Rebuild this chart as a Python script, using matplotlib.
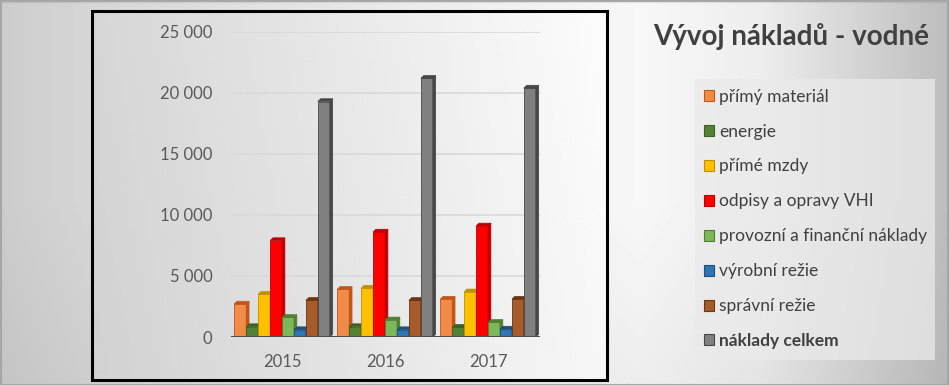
import matplotlib
matplotlib.use("Agg")
import matplotlib.pyplot as plt
import numpy as np
from matplotlib.patches import Patch, Polygon, Rectangle

plt.rcParams["font.family"] = ["Lato", "DejaVu Sans"]

years = ["2015", "2016", "2017"]
series = [
    "přímý materiál",
    "energie",
    "přímé mzdy",
    "odpisy a opravy VHI",
    "provozní a finanční náklady",
    "výrobní režie",
    "správní režie",
    "náklady celkem",
]
primy_material = [2700, 3900, 3100]
energie = [850, 850, 800]
prime_mzdy = [3500, 4000, 3700]
odpisy = [7900, 8600, 9100]
provozni = [1600, 1400, 1200]
vyrobni_rezie = [600, 600, 650]
spravni_rezie = [3000, 3000, 3100]
celkem = [19300, 21200, 20400]
values = [primy_material, energie, prime_mzdy, odpisy, provozni,
          vyrobni_rezie, spravni_rezie, celkem]

# front face, top/side face
colors = [
    ("#F28A48", "#C0561A"),
    ("#548235", "#3B6124"),
    ("#FFC000", "#BF9000"),
    ("#FF0000", "#C00000"),
    ("#7CB85A", "#507E32"),
    ("#2E75B6", "#1F4E79"),
    ("#A65B2B", "#6B3412"),
    ("#808080", "#474747"),
]

W, H = 949, 385
fig = plt.figure(figsize=(W / 100, H / 100), dpi=100)

# outer background: horizontal gray gradient, light near the title
bg = fig.add_axes([0, 0, 1, 1])
xs_px = np.arange(W)
prof = np.interp(xs_px, [0, 90, 400, 640, 760, 949], [0.80, 0.84, 0.92, 0.97, 0.93, 0.74])
vert = np.interp(np.arange(H), [0, 4, 200, 385], [0.90, 1.0, 1.0, 0.96])
shade = vert[:, None] * prof[None, :]
bg.imshow(shade, cmap="gray", vmin=0, vmax=1, extent=[0, W, H, 0], aspect="auto")
bg.add_patch(Rectangle((0.5, 0.5), W - 1, H - 1, fill=False, ec="#a6a6a6", lw=1.5))

# plot box with its own gradient and black frame
x0, x1, y0, y1 = 92, 607, 11, 380
grad = np.linspace(0.84, 0.99, 200)[None, :] * np.ones((50, 1))
grad = grad + np.linspace(0.0, -0.02, 50)[:, None]
bg.imshow(grad, cmap="gray", vmin=0, vmax=1, extent=[x0, x1, y1, y0], aspect="auto")
bg.add_patch(Rectangle((x0, y0), x1 - x0, y1 - y0, fill=False, ec="black", lw=2.2))

# legend background
bg.add_patch(Rectangle((695, 79), 240, 281, fc="#eaeaea", ec="none", alpha=0.75))
bg.set_xlim(0, W)
bg.set_ylim(H, 0)
bg.axis("off")

fig.text(791 / W, 1 - 37 / H, "Vývoj nákladů - vodné", ha="center", va="center",
         fontsize=20, fontweight="bold", color="#404040")

# chart area
ax = fig.add_axes([230.5 / W, 48 / H, 309 / W, 305 / H])
ax.patch.set_alpha(0)
ax.set_xlim(-0.5, 2.5)
ax.set_ylim(0, 25000)
for s in ax.spines.values():
    s.set_visible(False)
ax.set_yticks(range(0, 25001, 5000))
ax.set_yticklabels([f"{v:,}".replace(",", " ") for v in range(0, 25001, 5000)])
ax.set_xticks(range(len(years)))
ax.set_xticklabels(years)
ax.tick_params(length=0, labelsize=12, labelcolor="#595959")
ax.tick_params(axis="y", pad=13)
ax.tick_params(axis="x", pad=12)
ax.grid(axis="y", color="#d9d9d9", lw=1.2)
ax.set_axisbelow(True)

bw = 0.116
dx, dy = 0.028, 230
x = np.arange(len(years))
for i, (vals, (front, dark)) in enumerate(zip(values, colors)):
    xs = x + (i - 3.5) * bw
    bars = ax.bar(xs, vals, width=bw, color=front, edgecolor=dark, lw=0.6,
                  zorder=3 + i, label=series[i])
    for b in bars:
        bx, h = b.get_x(), b.get_height()
        top = Polygon([(bx, h), (bx + bw, h), (bx + bw + dx, h + dy), (bx + dx, h + dy)],
                      closed=True, fc=dark, ec=dark, lw=0.5, zorder=3 + i)
        side = Polygon([(bx + bw, 0), (bx + bw + dx, dy), (bx + bw + dx, h + dy), (bx + bw, h)],
                       closed=True, fc=dark, ec=dark, lw=0.5, zorder=3 + i)
        ax.add_patch(top)
        ax.add_patch(side)

ax.axhline(0, color="#4d4d4d", lw=2.2, zorder=20)

handles = [Patch(fc=f, ec=d, lw=0.8) for f, d in colors]
leg = fig.legend(handles, series, loc="upper left", bbox_to_anchor=(688 / W, 1 - 73 / H),
                 frameon=False, fontsize=12.5, labelspacing=1.09, handlelength=0.6,
                 handleheight=0.6, handletextpad=0.3, labelcolor="#404040")
leg.get_texts()[-1].set_fontweight("bold")

fig.savefig("out.png", dpi=100)
